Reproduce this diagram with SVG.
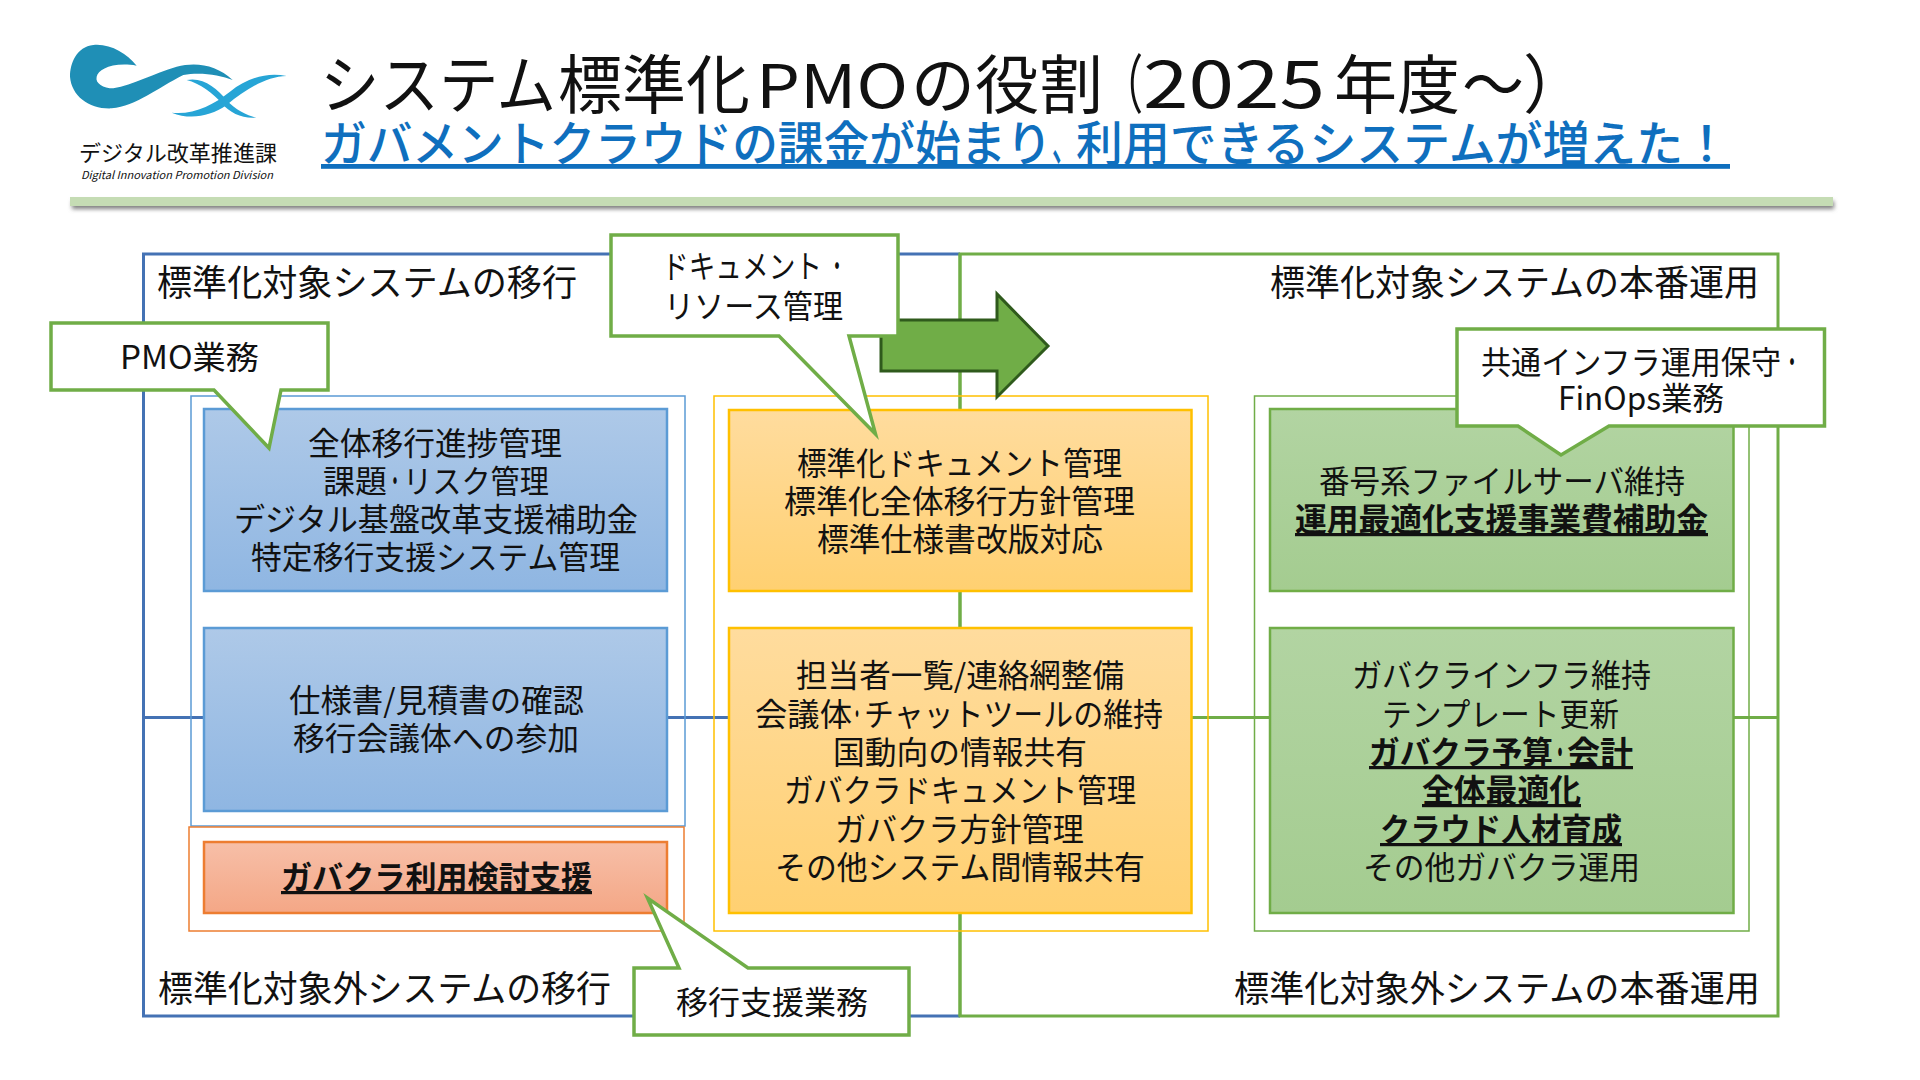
<svg xmlns="http://www.w3.org/2000/svg" width="1920" height="1080" viewBox="0 0 1920 1080">
<defs>
<linearGradient id="gb" x1="0" y1="0" x2="0" y2="1"><stop offset="0" stop-color="#aec9e8"/><stop offset="1" stop-color="#8fb6e2"/></linearGradient>
<linearGradient id="gy" x1="0" y1="0" x2="0" y2="1"><stop offset="0" stop-color="#ffdc9e"/><stop offset="1" stop-color="#ffd071"/></linearGradient>
<linearGradient id="gg" x1="0" y1="0" x2="0" y2="1"><stop offset="0" stop-color="#b2d4a2"/><stop offset="1" stop-color="#a4cc90"/></linearGradient>
<linearGradient id="go" x1="0" y1="0" x2="0" y2="1"><stop offset="0" stop-color="#f7bfa8"/><stop offset="1" stop-color="#f4a786"/></linearGradient>
<filter id="sh" x="-2%" y="-60%" width="104%" height="220%"><feGaussianBlur stdDeviation="2"/></filter>
</defs>
<style>
text{font-family:"Noto Sans CJK JP","Noto Sans",sans-serif;fill:#111;font-size:32px}
.h{font-size:36px}
.b{font-weight:700;text-decoration:underline}
.t{font-size:64px}
.s{font-size:48px;fill:#0f6fbe;font-weight:500;text-decoration:underline}
.c{fill:#fff;stroke:#70ad47;stroke-width:3.5}
.bb{fill:url(#gb);stroke:#5b9bd5;stroke-width:2.5}
.by{fill:url(#gy);stroke:#ffc000;stroke-width:2.5}
.bg{fill:url(#gg);stroke:#70ad47;stroke-width:2.5}
.bo{fill:url(#go);stroke:#ed7d31;stroke-width:2.5}
.o{fill:none;stroke-width:1.5}
.lb{fill:none;stroke:#4472b4;stroke-width:3}
.lg{fill:none;stroke:#70ad47;stroke-width:3}
</style>
<rect width="1920" height="1080" fill="#fff"/>

<g id="logo">
<g transform="translate(40,20) scale(.3333)">
<path fill="#1f8fb6" d="M290 137C260 100 210 70 160 75C110 80 90 130 90 170C95 230 150 268 215 265C290 258 350 205 430 165C480 155 540 165 578 180C530 135 470 125 410 140C340 160 280 195 220 205C190 205 165 190 170 170C175 150 215 125 290 137Z"/>
<path fill="#27a5d6" d="M740 168C680 155 620 175 570 215C520 255 460 285 395 278C450 300 510 290 560 255C620 205 680 170 740 168Z"/>
<path fill="#27a5d6" d="M440 180C490 170 530 205 560 240C585 270 620 285 648 293C610 297 570 280 545 250C520 220 480 190 440 180Z"/>
</g>
<text x="79" y="161" style="font-size:22px" textLength="198" lengthAdjust="spacingAndGlyphs">デジタル改革推進課</text>
<text x="81" y="179" style="font-size:11px;font-style:italic" textLength="192" lengthAdjust="spacingAndGlyphs">Digital Innovation Promotion Division</text>
</g>

<g id="header">
<text class="t" y="108"><tspan x="320" textLength="236" lengthAdjust="spacingAndGlyphs">システム</tspan><tspan x="558" textLength="192" lengthAdjust="spacingAndGlyphs">標準化</tspan><tspan x="756" textLength="152" lengthAdjust="spacingAndGlyphs" style="font-size:60px">PMO</tspan><tspan x="911" textLength="192" lengthAdjust="spacingAndGlyphs">の役割</tspan><tspan x="1103" textLength="40" lengthAdjust="spacingAndGlyphs">（</tspan><tspan x="1143" textLength="182" lengthAdjust="spacingAndGlyphs">2025</tspan><tspan x="1334" textLength="126" lengthAdjust="spacingAndGlyphs">年度</tspan><tspan x="1462" textLength="62" lengthAdjust="spacingAndGlyphs">～</tspan><tspan x="1523">）</tspan></text>
<text class="s" y="161"><tspan x="321" textLength="731" lengthAdjust="spacingAndGlyphs">ガバメントクラウドの課金が始まり</tspan><tspan x="1052" textLength="24" lengthAdjust="spacingAndGlyphs">、</tspan><tspan x="1076" textLength="654" lengthAdjust="spacingAndGlyphs">利用できるシステムが増えた！</tspan></text>
<rect x="72" y="201" width="1762" height="8" fill="#7f7f7f" filter="url(#sh)"/>
<rect x="70" y="197" width="1763" height="9" fill="#c5dcb4"/>
</g>

<g id="connectors">
<path class="lb" d="M960 254H143.500V1016H960"/>
<path class="lg" d="M960 1016H1778V254H960Z"/>
<path class="lb" d="M143.500 717.500H204M667 717.500H729"/>
<path class="lg" d="M1191.500 717.500H1270M1733.500 717.500H1778"/>
<path class="lg" d="M960 254V410M960 591V628M960 913V1016"/>
</g>

<g id="group-blue"><rect class="o" x="191" y="396" width="494" height="430" stroke="#5b9bd5"/></g>
<g id="group-orange"><rect class="o" x="189" y="827" width="495" height="104" stroke="#ed7d31"/></g>
<g id="group-yellow"><rect class="o" x="714" y="396" width="494" height="535" stroke="#ffc000"/></g>
<g id="group-green"><rect class="o" x="1254.500" y="396" width="494.500" height="535" stroke="#70ad47"/></g>

<g id="arrow"><path fill="#70ad47" stroke="#2f5a1c" stroke-width="3" d="M881 320H997V294L1048 346L997 397V371H881Z"/></g>

<g id="box-blue-1">
<rect class="bb" x="204" y="409" width="463" height="182"/>
<text x="308" y="455" textLength="254" lengthAdjust="spacingAndGlyphs">全体移行進捗管理</text>
<text y="493"><tspan x="323" textLength="64" lengthAdjust="spacingAndGlyphs">課題</tspan><tspan x="387" textLength="16" lengthAdjust="spacingAndGlyphs">・</tspan><tspan x="403" textLength="146" lengthAdjust="spacingAndGlyphs">リスク管理</tspan></text>
<text x="234" y="531" textLength="404" lengthAdjust="spacingAndGlyphs">デジタル基盤改革支援補助金</text>
<text x="251" y="569" textLength="369" lengthAdjust="spacingAndGlyphs">特定移行支援システム管理</text>
</g>
<g id="box-blue-2">
<rect class="bb" x="204" y="628" width="463" height="183"/>
<text x="289" y="712" textLength="295" lengthAdjust="spacingAndGlyphs">仕様書/見積書の確認</text>
<text x="293" y="750" textLength="286" lengthAdjust="spacingAndGlyphs">移行会議体への参加</text>
</g>
<g id="box-orange">
<rect class="bo" x="204" y="842" width="463" height="71"/>
<text class="b" x="281" y="889" textLength="311" lengthAdjust="spacingAndGlyphs">ガバクラ利用検討支援</text>
</g>
<g id="box-yellow-1">
<rect class="by" x="729" y="410" width="462.500" height="181"/>
<text x="797" y="475" textLength="325" lengthAdjust="spacingAndGlyphs">標準化ドキュメント管理</text>
<text x="784" y="513" textLength="351" lengthAdjust="spacingAndGlyphs">標準化全体移行方針管理</text>
<text x="817" y="551" textLength="286" lengthAdjust="spacingAndGlyphs">標準仕様書改版対応</text>
</g>
<g id="box-yellow-2">
<rect class="by" x="729" y="628" width="462.500" height="285"/>
<text x="796" y="687" textLength="328" lengthAdjust="spacingAndGlyphs">担当者一覧/連絡網整備</text>
<text y="726"><tspan x="755" textLength="97" lengthAdjust="spacingAndGlyphs">会議体</tspan><tspan x="851" textLength="12" lengthAdjust="spacingAndGlyphs">・</tspan><tspan x="864" textLength="299" lengthAdjust="spacingAndGlyphs">チャットツールの維持</tspan></text>
<text x="833" y="764" textLength="254" lengthAdjust="spacingAndGlyphs">国動向の情報共有</text>
<text x="784" y="802" textLength="352" lengthAdjust="spacingAndGlyphs">ガバクラドキュメント管理</text>
<text x="835" y="841" textLength="249" lengthAdjust="spacingAndGlyphs">ガバクラ方針管理</text>
<text x="775" y="879" textLength="370" lengthAdjust="spacingAndGlyphs">その他システム間情報共有</text>
</g>
<g id="box-green-1">
<rect class="bg" x="1270" y="409" width="463.500" height="182"/>
<text x="1319" y="493" textLength="366" lengthAdjust="spacingAndGlyphs">番号系ファイルサーバ維持</text>
<text class="b" x="1295" y="531" textLength="413" lengthAdjust="spacingAndGlyphs">運用最適化支援事業費補助金</text>
</g>
<g id="box-green-2">
<rect class="bg" x="1270" y="628" width="463.500" height="285"/>
<text x="1352" y="687" textLength="299" lengthAdjust="spacingAndGlyphs">ガバクラインフラ維持</text>
<text x="1382" y="726" textLength="237" lengthAdjust="spacingAndGlyphs">テンプレート更新</text>
<text class="b" y="764"><tspan x="1369" textLength="184" lengthAdjust="spacingAndGlyphs">ガバクラ予算</tspan><tspan x="1553" textLength="14" lengthAdjust="spacingAndGlyphs">・</tspan><tspan x="1567" textLength="66" lengthAdjust="spacingAndGlyphs">会計</tspan></text>
<text class="b" x="1422" y="802" textLength="159" lengthAdjust="spacingAndGlyphs">全体最適化</text>
<text class="b" x="1380" y="841" textLength="242" lengthAdjust="spacingAndGlyphs">クラウド人材育成</text>
<text x="1363" y="879" textLength="277" lengthAdjust="spacingAndGlyphs">その他ガバクラ運用</text>
</g>

<g id="area-labels">
<text class="h" x="157" y="296" textLength="420" lengthAdjust="spacingAndGlyphs">標準化対象システムの移行</text>
<text class="h" x="1270" y="296" textLength="489" lengthAdjust="spacingAndGlyphs">標準化対象システムの本番運用</text>
<text class="h" x="158" y="1002" textLength="453" lengthAdjust="spacingAndGlyphs">標準化対象外システムの移行</text>
<text class="h" x="1234" y="1002" textLength="526" lengthAdjust="spacingAndGlyphs">標準化対象外システムの本番運用</text>
</g>

<g id="callout-pmo">
<path class="c" d="M51 323H328V390H281L269 448L214 390H51Z"/>
<text x="120" y="369" textLength="139" lengthAdjust="spacingAndGlyphs">PMO業務</text>
</g>
<g id="callout-doc">
<path class="c" d="M611 235H898V336H849L875.500 434L779 336H611Z"/>
<text y="278"><tspan x="662" textLength="160" lengthAdjust="spacingAndGlyphs">ドキュメント</tspan><tspan x="828" textLength="18" lengthAdjust="spacingAndGlyphs">・</tspan></text>
<text x="664" y="318" textLength="179" lengthAdjust="spacingAndGlyphs">リソース管理</text>
</g>
<g id="callout-infra">
<path class="c" d="M1457 329H1824.500V426H1609L1561 455L1518 426H1457Z"/>
<text y="374"><tspan x="1481" textLength="300" lengthAdjust="spacingAndGlyphs">共通インフラ運用保守</tspan><tspan x="1783" textLength="18" lengthAdjust="spacingAndGlyphs">・</tspan></text>
<text x="1558" y="410" textLength="166" lengthAdjust="spacingAndGlyphs">FinOps業務</text>
</g>
<g id="callout-migration">
<path class="c" d="M634 968H679L647.500 898L748 968H909V1035H634Z"/>
<text x="676" y="1014" textLength="192" lengthAdjust="spacingAndGlyphs">移行支援業務</text>
</g>
</svg>
